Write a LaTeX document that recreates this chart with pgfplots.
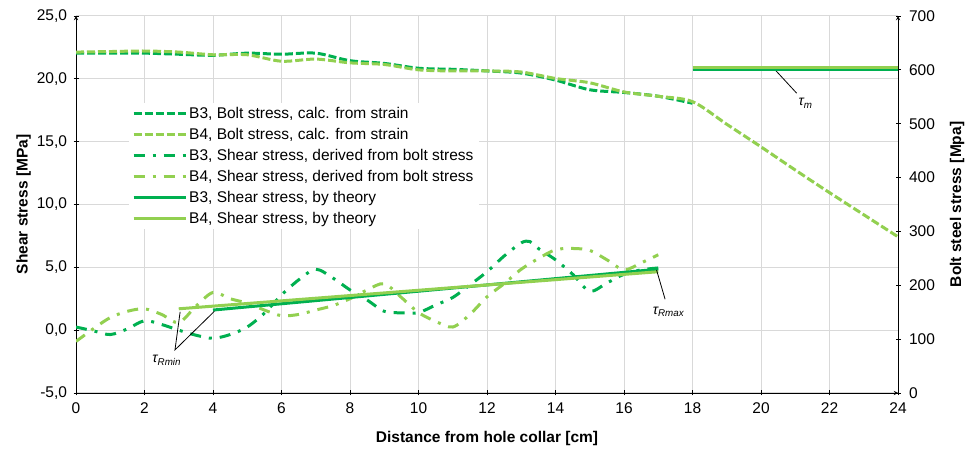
\documentclass[border=0pt]{standalone}
\usepackage{pgfplots}
\pgfplotsset{compat=1.18}
\usepackage{pgfplotstable}
\usepackage{fontspec}
\setmainfont{Liberation Sans}

\definecolor{gdark}{HTML}{00B050}
\definecolor{glight}{HTML}{92D050}

% bolt stress [MPa], right axis
\pgfplotstableread{
x y
0 631
1 631
2 631
3 629
4 627
5 631
6 629
7 631
8 617
9 612
10 603
11 601
12 598
13 594
14 581
15 563
16 558
17 551
18 538
}\boltBthree

\pgfplotstableread{
x y
0 633
1 634
2 635
3 633
4 628
5 628
6 616
7 620
8 613
9 610
10 600
11 598
12 598
13 596
14 584
15 576
16 559
17 551
18 541
19 499
20 457
21 414
22 372
23 331
24 290
}\boltBfour

% shear stress derived from bolt stress [MPa], left axis
\pgfplotstableread{
x y
0 0.25
0.5 -0.05
1 -0.35
1.5 0.1
2 0.75
2.5 0.45
3 0.0
3.5 -0.4
4 -0.65
4.5 -0.35
5 0.25
5.5 1.35
6 2.8
6.5 4.0
7 4.85
7.5 4.15
8 3.2
8.5 2.4
9 1.5
9.5 1.38
10 1.4
10.5 2.0
11 2.6
11.5 3.6
12 4.65
12.5 5.9
13 6.95
13.25 7.05
13.5 6.5
14 5.6
14.5 4.45
15 3.1
15.5 3.75
16 4.45
16.5 4.8
17 4.95
}\shearBthree

\pgfplotstableread{
x y
0 -0.9
0.5 0.1
1 1.0
1.5 1.5
2 1.7
2.5 1.25
3 0.6
3.5 1.9
4 3.0
4.5 2.5
5 2.15
5.5 1.6
6 1.15
6.5 1.25
7 1.6
7.5 1.95
8 2.5
8.5 3.2
9 3.7
9.5 2.6
10 1.4
10.5 0.7
11 0.25
11.5 1.25
12 2.65
12.5 3.7
13 4.85
13.5 5.7
14 6.4
14.5 6.5
15 6.35
15.5 5.6
16 4.8
16.5 5.35
17 6.0
}\shearBfour

\tikzset{
  boltline/.style={line width=3pt, dash pattern=on 8pt off 3pt},
  shearline/.style={line width=3pt, dash pattern=on 11pt off 8pt on 3pt off 8pt},
  theoryline/.style={line width=3pt},
}

\pgfplotsset{
  common/.style={
    scale only axis, width=822pt, height=377pt,
    xmin=0, xmax=24,
    axis line style={-, line width=0.9pt, black},
    tick align=outside, major tick length=5pt,
    tick style={line width=0.9pt, black},
    tick label style={font=\fontsize{15.5}{18}\selectfont,
      /pgf/number format/assume math mode=true},
    label style={font=\bfseries\fontsize{15.5}{18}\selectfont},
  },
}

\begin{document}
\begin{tikzpicture}
\begin{axis}[
  common, name=main,
  ymin=-5, ymax=25,
  xtick={0,2,...,24}, ytick={-5,0,...,25},
  axis x line=bottom, axis y line=left,
  grid=major, grid style={line width=1pt, color=black!15},
  y tick label style={xshift=-3pt, /pgf/number format/.cd, fixed, fixed zerofill, precision=1, use comma},
  x tick label style={yshift=-4pt},
  xlabel={Distance from hole collar [cm]},
  xlabel style={yshift=-10pt},
  ylabel={Shear stress [MPa]},
  ylabel style={yshift=-1pt},
  legend style={at={(0.0645,0.769)}, anchor=north west, draw=none, fill=white,
    font=\fontsize{15.5}{18}\selectfont, row sep=4.2pt, nodes={inner sep=2pt}},
  legend cell align=left,
  legend image code/.code={\draw[#1] (0pt,0pt) -- (52pt,0pt);},
]
\addlegendimage{gdark, boltline}
\addlegendentry{B3, Bolt stress, calc. from strain}
\addlegendimage{glight, boltline}
\addlegendentry{B4, Bolt stress, calc. from strain}
\addplot[gdark, shearline, smooth] table {\shearBthree};
\addlegendentry{B3, Shear stress, derived from bolt stress}
\addplot[glight, shearline, smooth] table {\shearBfour};
\addlegendentry{B4, Shear stress, derived from bolt stress}
\addplot[gdark, theoryline] coordinates {(4,1.6) (17,4.85)};
\addlegendentry{B3, Shear stress, by theory}
\addplot[glight, theoryline] coordinates {(3,1.7) (17,4.65)};
\addlegendentry{B4, Shear stress, by theory}

% leader lines
\addplot[black, line width=0.8pt, forget plot] coordinates {(3.04,1.45) (2.89,-1.57) (4.04,1.5)};
\addplot[black, line width=0.8pt, forget plot] coordinates {(16.95,4.79) (17.2,2.46)};
\addplot[black, line width=0.8pt, forget plot] coordinates {(20.41,20.72) (21.04,18.86)};
\node[font=\itshape\fontsize{14}{16}\selectfont] at (axis cs:2.65,-2.4) {τ\textsubscript{Rmin}};
\node[font=\itshape\fontsize{14}{16}\selectfont] at (axis cs:17.3,1.45) {τ\textsubscript{Rmax}};
\node[font=\itshape\fontsize{14}{16}\selectfont] at (axis cs:21.3,18.05) {τ\textsubscript{m}};
\end{axis}

\begin{axis}[
  common,
  ymin=0, ymax=700,
  ytick={0,100,...,700},
  axis x line=none, axis y line=right,
  y tick label style={xshift=5pt},
  ylabel={Bolt steel stress [Mpa]},
  ylabel style={font=\bfseries\fontsize{15.5}{18}\selectfont, yshift=-8pt},
]
\addplot[gdark, boltline, smooth] table {\boltBthree};
\addplot[glight, boltline, smooth] table {\boltBfour};
\addplot[glight, line width=3.5pt] coordinates {(18,604) (24,604)};
\addplot[gdark, line width=2.5pt] coordinates {(18,600) (24,600)};
\end{axis}

\path ([shift={(-76pt,-57pt)}]main.south west) rectangle ([shift={(75pt,16pt)}]main.north east);
\end{tikzpicture}
\end{document}
